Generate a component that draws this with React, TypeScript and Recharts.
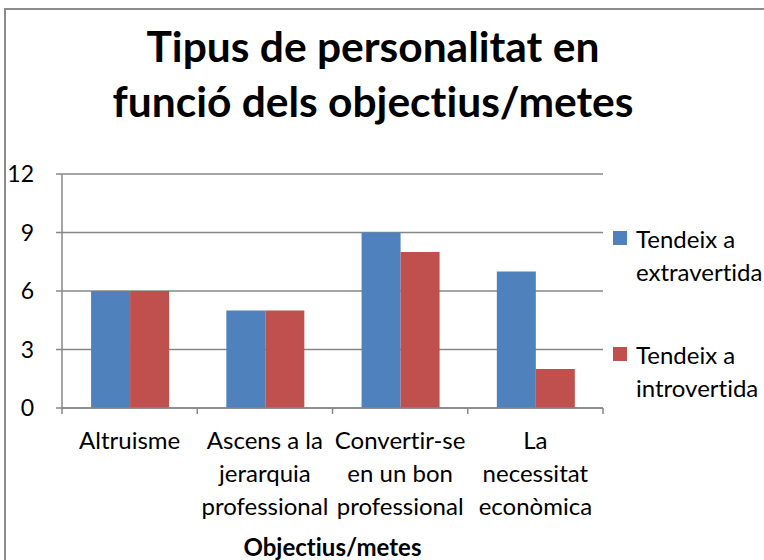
import React from "react";
import { BarChart, Bar, XAxis, YAxis, CartesianGrid, Legend, Label } from "recharts";

const categories = [
  "Altruisme",
  "Ascens a la jerarquia professional",
  "Convertir-se en un bon professional",
  "La necessitat econòmica",
];
const tickLabels = [
  ["Altruisme"],
  ["Ascens a la", "jerarquia", "professional"],
  ["Convertir-se", "en un bon", "professional"],
  ["La", "necessitat", "econòmica"],
];
const extravertida = [6, 5, 9, 7];
const introvertida = [6, 5, 8, 2];
const yTicks = [0, 3, 6, 9, 12];

const seriesNames = ["Tendeix a extravertida", "Tendeix a introvertida"];
const titleLines = ["Tipus de personalitat en", "funció dels objectius/metes"];

const data = categories.map((c, i) => ({
  category: c,
  extra: extravertida[i],
  intro: introvertida[i],
}));

const FONT = "Lato, 'Open Sans', sans-serif";
const GRID = "#878787";
const NOLIG = { fontVariantLigatures: "none" as const };

const CategoryTick = (props: any) => {
  const { x, y, index, width } = props;
  const band = width / categories.length;
  const lines = tickLabels[index] || [];
  return (
    <g>
      <line x1={x - band / 2} x2={x - band / 2} y1={y} y2={y + 6} stroke={GRID} strokeWidth={1.5} />
      {index === categories.length - 1 && (
        <line x1={x + band / 2} x2={x + band / 2} y1={y} y2={y + 6} stroke={GRID} strokeWidth={1.5} />
      )}
      {lines.map((l, i) => (
        <text
          key={i}
          x={x}
          y={y + 41 + i * 33}
          textAnchor="middle"
          fontFamily={FONT}
          fontSize={24}
          fill="#000"
          style={NOLIG}
        >
          {l}
        </text>
      ))}
    </g>
  );
};

const LegendContent = (props: any) => {
  const { payload } = props;
  return (
    <div style={{ fontFamily: FONT, fontSize: 24, color: "#000", ...NOLIG }}>
      {(payload || []).map((p: any, i: number) => (
        <div key={i} style={{ display: "flex", alignItems: "flex-start", height: 116 }}>
          <div style={{ width: 14, height: 14, background: p.color, marginTop: 9, marginRight: 9, flexShrink: 0 }} />
          <div style={{ width: 128, lineHeight: "33px" }}>{p.value}</div>
        </div>
      ))}
    </div>
  );
};

export default function App() {
  return (
    <div style={{ position: "absolute", left: 0, top: 0, width: 764, height: 560, overflow: "hidden", background: "#fff" }}>
      <div
        style={{
          position: "absolute",
          left: 4,
          top: 8,
          width: 800,
          height: 600,
          border: "2px solid #8c8c8c",
        }}
      />
      {titleLines.map((t, i) => (
        <div
          key={i}
          style={{
            position: "absolute",
            left: 73,
            width: 600,
            top: 18 + i * 55,
            textAlign: "center",
            fontFamily: FONT,
            fontWeight: 700,
            fontSize: 42.5,
            lineHeight: "55px",
            color: "#000",
            ...NOLIG,
          }}
        >
          {t}
        </div>
      ))}
      <div style={{ position: "absolute", left: 0, top: 0 }}>
        <BarChart
          width={764}
          height={560}
          data={data}
          margin={{ top: 174, right: 161, bottom: 0, left: 0 }}
          barCategoryGap="21.5%"
          barGap={0}
        >
          <CartesianGrid horizontal vertical={false} stroke={GRID} strokeWidth={1.5} />
          <XAxis
            dataKey="category"
            height={152}
            tickLine={false}
            tickSize={0}
            tickMargin={0}
            axisLine={{ stroke: GRID, strokeWidth: 1.5 }}
            tick={<CategoryTick />}
            interval={0}
          >
            <Label
              value="Objectius/metes"
              position="insideBottom"
              offset={4}
              style={{ fontFamily: FONT, fontWeight: 700, fontSize: 24, fill: "#000", ...NOLIG }}
            />
          </XAxis>
          <YAxis
            width={62}
            domain={[0, 12]}
            ticks={yTicks}
            interval={0}
            tickSize={6}
            tickMargin={22}
            tickLine={{ stroke: GRID, strokeWidth: 1.5 }}
            axisLine={{ stroke: GRID, strokeWidth: 1.5 }}
            tick={{ fontFamily: FONT, fontSize: 23, fill: "#000" }}
          />
          <Legend
            layout="horizontal"
            verticalAlign="middle"
            align="center"
            content={<LegendContent />}
            wrapperStyle={{ position: "absolute", left: 613, top: 222, width: 151, height: "auto" }}
          />
          <Bar dataKey="extra" name={seriesNames[0]} fill="#4F81BD" isAnimationActive={false} />
          <Bar dataKey="intro" name={seriesNames[1]} fill="#C0504D" isAnimationActive={false} />
        </BarChart>
      </div>
    </div>
  );
}
